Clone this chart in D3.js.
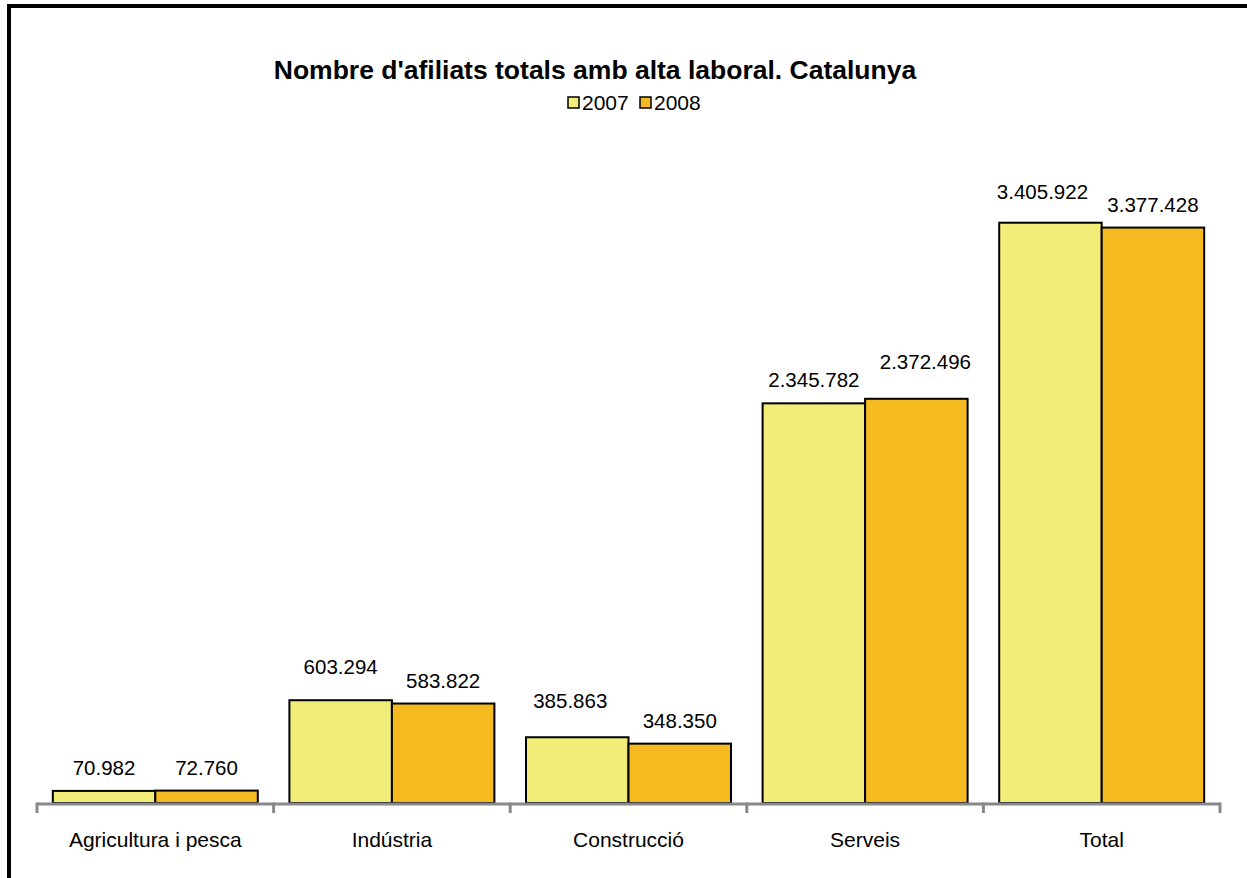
<!DOCTYPE html>
<html>
<head>
<meta charset="utf-8">
<script src="https://cdn.jsdelivr.net/npm/d3@7"></script>
<style>
  html, body { margin: 0; padding: 0; background: #fff; }
  svg { display: block; }
</style>
</head>
<body>
<script>
// ---- data ----
const categories = ["Agricultura i pesca", "Indústria", "Construcció", "Serveis", "Total"];
const seriesNames = ["2007", "2008"];
const values2007 = [70982, 603294, 385863, 2345782, 3405922];
const values2008 = [72760, 583822, 348350, 2372496, 3377428];
const labels2007 = ["70.982", "603.294", "385.863", "2.345.782", "3.405.922"];
const labels2008 = ["72.760", "583.822", "348.350", "2.372.496", "3.377.428"];

// ---- layout / style (not data) ----
const W = 1247, H = 878;
const colors = ["#F2EC78", "#F5BA20"];
// manual label nudges (dx, extra lift) as in the reference
const nudge2007 = [[0, 0], [0, 10], [-7, 13], [0, 0], [-8, 8]];
const nudge2008 = [[0, 0], [0, 0], [0, 0], [9, 14], [0, 0]];

const svg = d3.select("body").append("svg").attr("width", W).attr("height", H);

// outer frame
svg.append("rect").attr("x", 9).attr("y", 6).attr("width", W + 20).attr("height", H + 20)
  .attr("fill", "#fff").attr("stroke", "#000").attr("stroke-width", 4);

const x0 = d3.scaleBand().domain(categories).range([37, 1220])
  .paddingInner(0.1336).paddingOuter(0.0668);
const x1 = d3.scaleBand().domain(seriesNames).range([0, x0.bandwidth()]).padding(0);
const y = d3.scaleLinear().domain([0, 4000000]).range([803, 121.5]);

const rows = categories.map((c, i) => ({
  cat: c,
  vals: [
    { s: "2007", v: values2007[i], lab: labels2007[i], n: nudge2007[i], ci: 0 },
    { s: "2008", v: values2008[i], lab: labels2008[i], n: nudge2008[i], ci: 1 }
  ]
}));

const g = svg.append("g");
const grp = g.selectAll("g.cat").data(rows).enter().append("g")
  .attr("transform", d => `translate(${x0(d.cat)},0)`);

grp.selectAll("rect").data(d => d.vals).enter().append("rect")
  .attr("x", d => x1(d.s))
  .attr("y", d => y(d.v))
  .attr("width", x1.bandwidth())
  .attr("height", d => y(0) - y(d.v))
  .attr("fill", d => colors[d.ci])
  .attr("stroke", "#000").attr("stroke-width", 2);

grp.selectAll("text").data(d => d.vals).enter().append("text")
  .attr("x", d => x1(d.s) + x1.bandwidth() / 2 + d.n[0])
  .attr("y", d => y(d.v) - 16 - d.n[1])
  .attr("text-anchor", "middle")
  .attr("font-family", "Liberation Sans, Arial, sans-serif")
  .attr("font-size", 20.5)
  .attr("fill", "#000")
  .text(d => d.lab);

// axis
const step = x0.step();
const gapHalf = step * x0.paddingInner() / 2;
const tickXs = categories.map(c => x0(c) - gapHalf).concat([x0(categories[categories.length - 1]) + x0.bandwidth() + gapHalf]);
const axisG = svg.append("g");
axisG.append("line").attr("x1", tickXs[0]).attr("x2", tickXs[tickXs.length - 1])
  .attr("y1", y(0) + 1).attr("y2", y(0) + 1)
  .attr("stroke", "#888").attr("stroke-width", 3);
axisG.selectAll("line.tick").data(tickXs).enter().append("line")
  .attr("x1", d => d).attr("x2", d => d)
  .attr("y1", y(0) - 0.5).attr("y2", y(0) + 10)
  .attr("stroke", "#888").attr("stroke-width", 3);

axisG.selectAll("text.cat").data(categories).enter().append("text")
  .attr("x", d => x0(d) + x0.bandwidth() / 2)
  .attr("y", 847)
  .attr("text-anchor", "middle")
  .attr("font-family", "Liberation Sans, Arial, sans-serif")
  .attr("font-size", 21)
  .attr("fill", "#000")
  .text(d => d);

// title
svg.append("text").attr("x", 595).attr("y", 79).attr("text-anchor", "middle")
  .attr("font-family", "Liberation Sans, Arial, sans-serif")
  .attr("font-size", 26.5).attr("font-weight", "bold")
  .text("Nombre d'afiliats totals amb alta laboral. Catalunya");

// legend
const leg = svg.append("g");
const legX = [568, 640];
seriesNames.forEach((s, i) => {
  leg.append("rect").attr("x", legX[i]).attr("y", 97).attr("width", 11).attr("height", 11)
    .attr("fill", colors[i]).attr("stroke", "#000").attr("stroke-width", 1.5);
  leg.append("text").attr("x", legX[i] + 14).attr("y", 109.5)
    .attr("font-family", "Liberation Sans, Arial, sans-serif")
    .attr("font-size", 21).text(s);
});
</script>
</body>
</html>
